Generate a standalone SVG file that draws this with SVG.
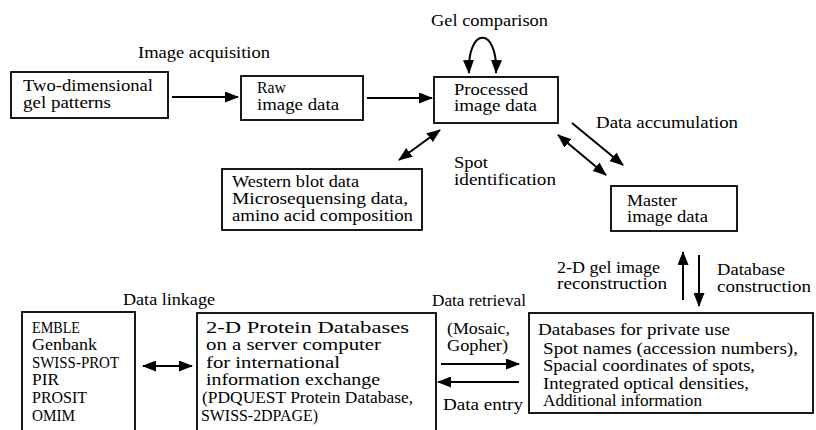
<svg xmlns="http://www.w3.org/2000/svg" width="816" height="430" viewBox="0 0 816 430">
<defs>
<style>
.box{fill:#fff;stroke:#000;stroke-width:1.8}
.t{font-family:"Liberation Serif","Times New Roman",serif;font-size:16px;fill:#000}
.c{fill:none;stroke:#000;stroke-width:2}
</style>
<marker id="ah" markerUnits="userSpaceOnUse" markerWidth="14" markerHeight="11" refX="13" refY="5.5" orient="auto-start-reverse">
<path d="M0,0 L14,5.5 L0,11 z" fill="#000"/>
</marker>
</defs>
<rect width="816" height="430" fill="#fff"/>

<g id="labels">
<text class="t" x="138" y="58" textLength="132" lengthAdjust="spacingAndGlyphs">Image acquisition</text>
<text class="t" x="431" y="26" textLength="117" lengthAdjust="spacingAndGlyphs">Gel comparison</text>
<text class="t" x="596" y="128" textLength="142" lengthAdjust="spacingAndGlyphs">Data accumulation</text>
<text class="t" x="454" y="168" textLength="34" lengthAdjust="spacingAndGlyphs">Spot</text>
<text class="t" x="454" y="185" textLength="102" lengthAdjust="spacingAndGlyphs">identification</text>
<text class="t" x="557" y="273" textLength="103" lengthAdjust="spacingAndGlyphs">2-D gel image</text>
<text class="t" x="557" y="289" textLength="110" lengthAdjust="spacingAndGlyphs">reconstruction</text>
<text class="t" x="717" y="275" textLength="68" lengthAdjust="spacingAndGlyphs">Database</text>
<text class="t" x="717" y="292" textLength="94" lengthAdjust="spacingAndGlyphs">construction</text>
<text class="t" x="123" y="305" textLength="92" lengthAdjust="spacingAndGlyphs">Data linkage</text>
<text class="t" x="432" y="306" textLength="94" lengthAdjust="spacingAndGlyphs">Data retrieval</text>
<text class="t" x="447" y="334" textLength="63" lengthAdjust="spacingAndGlyphs">(Mosaic,</text>
<text class="t" x="447" y="351" textLength="61" lengthAdjust="spacingAndGlyphs">Gopher)</text>
<text class="t" x="443" y="410" textLength="80" lengthAdjust="spacingAndGlyphs">Data entry</text>
</g>

<g id="node-gel">
<rect class="box" x="11" y="72" width="157" height="46"/>
<text class="t" x="23" y="91" textLength="130" lengthAdjust="spacingAndGlyphs">Two-dimensional</text>
<text class="t" x="23" y="108" textLength="88" lengthAdjust="spacingAndGlyphs">gel patterns</text>
</g>

<g id="node-raw">
<rect class="box" x="241" y="76" width="122" height="44"/>
<text class="t" x="257" y="93" textLength="29" lengthAdjust="spacingAndGlyphs">Raw</text>
<text class="t" x="257" y="110" textLength="82" lengthAdjust="spacingAndGlyphs">image data</text>
</g>

<g id="node-processed">
<rect class="box" x="434" y="77" width="124" height="46"/>
<text class="t" x="454" y="95" textLength="74" lengthAdjust="spacingAndGlyphs">Processed</text>
<text class="t" x="454" y="111" textLength="83" lengthAdjust="spacingAndGlyphs">image data</text>
</g>

<g id="node-western">
<rect class="box" x="222" y="169" width="200" height="61"/>
<text class="t" x="232" y="187" textLength="127" lengthAdjust="spacingAndGlyphs">Western blot data</text>
<text class="t" x="232" y="204" textLength="176" lengthAdjust="spacingAndGlyphs">Microsequensing data,</text>
<text class="t" x="232" y="221" textLength="181" lengthAdjust="spacingAndGlyphs">amino acid composition</text>
</g>

<g id="node-master">
<rect class="box" x="611" y="186" width="126" height="45"/>
<text class="t" x="627" y="206" textLength="50" lengthAdjust="spacingAndGlyphs">Master</text>
<text class="t" x="627" y="222" textLength="81" lengthAdjust="spacingAndGlyphs">image data</text>
</g>

<g id="node-external">
<rect class="box" x="22" y="312" width="113" height="130"/>
<text class="t" x="32" y="333" textLength="48" lengthAdjust="spacingAndGlyphs">EMBLE</text>
<text class="t" x="32" y="350" textLength="65" lengthAdjust="spacingAndGlyphs">Genbank</text>
<text class="t" x="32" y="368" textLength="87" lengthAdjust="spacingAndGlyphs">SWISS-PROT</text>
<text class="t" x="32" y="385" textLength="27" lengthAdjust="spacingAndGlyphs">PIR</text>
<text class="t" x="32" y="403" textLength="55" lengthAdjust="spacingAndGlyphs">PROSIT</text>
<text class="t" x="32" y="421" textLength="43" lengthAdjust="spacingAndGlyphs">OMIM</text>
</g>

<g id="node-server">
<rect class="box" x="197" y="313" width="239" height="130"/>
<text class="t" x="206" y="333" textLength="203" lengthAdjust="spacingAndGlyphs">2-D Protein Databases</text>
<text class="t" x="206" y="350" textLength="175" lengthAdjust="spacingAndGlyphs">on a server computer</text>
<text class="t" x="206" y="368" textLength="134" lengthAdjust="spacingAndGlyphs">for international</text>
<text class="t" x="206" y="385" textLength="174" lengthAdjust="spacingAndGlyphs">information exchange</text>
<text class="t" x="202" y="403" textLength="211" lengthAdjust="spacingAndGlyphs">(PDQUEST Protein Database,</text>
<text class="t" x="201" y="421" textLength="117" lengthAdjust="spacingAndGlyphs">SWISS-2DPAGE)</text>
</g>

<g id="node-private">
<rect class="box" x="529" y="313" width="284" height="100"/>
<text class="t" x="538" y="335" textLength="192" lengthAdjust="spacingAndGlyphs">Databases for private use</text>
<text class="t" x="543" y="354" textLength="255" lengthAdjust="spacingAndGlyphs">Spot names (accession numbers),</text>
<text class="t" x="543" y="371" textLength="212" lengthAdjust="spacingAndGlyphs">Spacial coordinates of spots,</text>
<text class="t" x="543" y="389" textLength="206" lengthAdjust="spacingAndGlyphs">Integrated optical densities,</text>
<text class="t" x="543" y="406" textLength="159" lengthAdjust="spacingAndGlyphs">Additional information</text>
</g>

<g id="connectors">
<path class="c" d="M172,97 L238,97" marker-end="url(#ah)"/>
<path class="c" d="M367,98 L432,98" marker-end="url(#ah)"/>
<path class="c" d="M469,73 C467,26 498,26 496,73" marker-start="url(#ah)" marker-end="url(#ah)"/>
<path class="c" d="M399,160 L440,130" marker-start="url(#ah)" marker-end="url(#ah)"/>
<path class="c" d="M572,123 L623,165" marker-end="url(#ah)"/>
<path class="c" d="M558,135 L606,175" marker-start="url(#ah)" marker-end="url(#ah)"/>
<path class="c" d="M683,300 L683,252" marker-end="url(#ah)"/>
<path class="c" d="M699,255 L699,306" marker-end="url(#ah)"/>
<path class="c" d="M441,364 L519,364" marker-end="url(#ah)"/>
<path class="c" d="M519,382 L438,382" marker-end="url(#ah)"/>
<path class="c" d="M143,366 L192,366" marker-start="url(#ah)" marker-end="url(#ah)"/>
</g>
</svg>
